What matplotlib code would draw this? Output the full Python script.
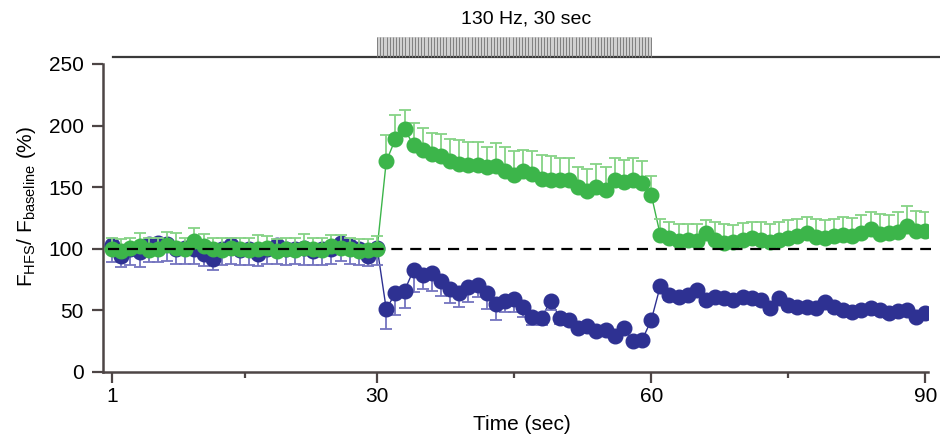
import numpy as np
import matplotlib
matplotlib.use("Agg")
import matplotlib.pyplot as plt

plt.rcParams['font.family'] = ['Liberation Sans', 'DejaVu Sans']
plt.rcParams['mathtext.fontset'] = 'custom'
plt.rcParams['mathtext.rm'] = 'Liberation Sans'
plt.rcParams['mathtext.it'] = 'Liberation Sans:italic'
plt.rcParams['mathtext.bf'] = 'Liberation Sans:bold'

# time points (sec), one sample per second
time = np.arange(1, 91)

# green trace (F_HFS / F_baseline, %) and its upper SEM
green = [
    100, 98, 101, 102, 99, 100, 103, 101, 100, 106,
    102, 100, 99, 101, 100, 99, 100, 101, 98, 100,
    99, 101, 100, 99, 102, 101, 100, 98, 99, 100,
    171, 189, 197, 184, 180, 177, 175, 171, 169, 168,
    168, 166, 167, 163, 160, 163, 161, 157, 156, 156,
    156, 150, 147, 150, 148, 156, 154, 156, 153, 144,
    111, 108.5, 106.5, 107.5, 106.5, 112.5, 107.5, 105, 105.5, 107,
    108.5, 107.5, 105.5, 107.5, 109, 110, 112.5, 109.5, 108.5, 110,
    111, 110, 112.5, 116, 112, 112.5, 114, 118.5, 114.5, 114.5,
]
green_err = [
    9, 10, 8, 11, 10, 9, 11, 12, 9, 11,
    10, 9, 10, 8, 9, 10, 11, 9, 10, 9,
    10, 11, 9, 10, 9, 10, 9, 10, 9, 10,
    21, 20, 16, 18, 18, 17, 18, 18, 19, 19,
    19, 17, 19, 20, 19, 17, 18, 19, 19, 18,
    18, 16, 18, 19, 18, 18, 18, 18, 18, 15,
    13, 13, 14, 13, 14, 11, 14, 15, 14, 14,
    13, 14, 15, 14, 14, 14, 13, 15, 15, 14,
    15, 15, 15, 14, 16, 15, 16, 16, 16, 15,
]

# blue trace and its lower SEM
blue = [
    103, 94, 100, 97, 104, 105, 104, 100, 101, 100,
    96, 92, 100, 103, 99, 100, 96, 100, 103, 100,
    100, 101, 98, 100, 100, 105, 102, 100, 94, 101,
    51, 64, 66, 83, 79, 80, 74, 67, 64, 69,
    71, 64, 55, 58, 59, 52.5, 45, 44, 58, 44,
    42, 35.5, 37, 33, 34, 29, 35.5, 25.5, 26, 42,
    70, 62.5, 61, 62.5, 66.5, 58.5, 61, 60, 58.5, 60.5,
    60, 58.5, 52, 60, 54.5, 53, 52.5, 52, 57, 53,
    50.5, 49, 50.5, 52, 50.5, 47.5, 49.5, 50.5, 45, 47.5,
]
blue_err = [
    14, 9, 13, 12, 15, 16, 14, 12, 13, 12,
    10, 9, 13, 15, 12, 13, 10, 12, 15, 13,
    12, 14, 11, 13, 12, 15, 14, 13, 8, 14,
    16, 18, 14, 18, 12, 14, 12, 11, 11, 12,
    10, 13, 13, 9, 10, 8, 7, 6, 8, 5,
    4, 3, 3, 3, 3, 3, 3, 3, 3, 3,
    4, 4, 4, 4, 4, 4, 4, 4, 4, 4,
    4, 4, 4, 4, 4, 4, 4, 4, 4, 4,
    4, 4, 4, 4, 4, 4, 4, 4, 4, 4,
]

stim_start, stim_end = 30, 60
stim_label = "130 Hz, 30 sec"
x_ticks = [1, 30, 60, 90]
x_minor = [15.5, 45, 75]
y_ticks = [0, 50, 100, 150, 200, 250]

GREEN = '#3cb54a'
GREEN_ERR = '#86d386'
BLUE = '#2e3192'
BLUE_ERR = '#7474bf'
AXIS = '#4d4545'

fig = plt.figure(figsize=(9.4, 4.38), dpi=100)
ax = fig.add_axes([0.1096, 0.1507, 0.8777, 0.7032])

zeros = np.zeros(len(time))

# blue trace
ax.plot(time, blue, '-', color=BLUE, lw=1.0, zorder=2)
ax.errorbar(time, blue, yerr=[blue_err, zeros], fmt='o', color=BLUE,
            ms=10.5, mec=BLUE, ecolor=BLUE_ERR, elinewidth=1.3,
            capsize=4.5, capthick=1.3, zorder=3)

# green trace
ax.plot(time, green, '-', color=GREEN, lw=1.0, zorder=4)
ax.errorbar(time, green, yerr=[zeros, green_err], fmt='o', color=GREEN,
            ms=10.5, mec=GREEN, ecolor=GREEN_ERR, elinewidth=1.3,
            capsize=4.5, capthick=1.3, zorder=5)

# baseline reference
ax.plot([0.5, 90.6], [100, 100], color='black', lw=1.6, dashes=(5, 3.5),
        zorder=6, clip_on=False)

# stimulation marker above the plot
ax.plot([1.1, 92], [255.7, 255.7], color='#3a3a3a', lw=1.6, clip_on=False)
ax.fill_between([stim_start, stim_end], 255.7, 272, color='#d0d0d0',
                lw=0, clip_on=False)
ax.vlines(np.linspace(stim_start, stim_end, 88), 255.7, 272,
          color='#808080', lw=0.7, clip_on=False)
ax.text(46.3, 286.5, stim_label, ha='center', va='center', fontsize=14,
        clip_on=False)

ax.set_xlim(0, 90.3)
ax.set_ylim(0, 250)
ax.set_xticks(x_ticks)
ax.set_xticks(x_minor, minor=True)
ax.set_yticks(y_ticks)

for side in ['top', 'right']:
    ax.spines[side].set_visible(False)
for side in ['left', 'bottom']:
    ax.spines[side].set_color(AXIS)
    ax.spines[side].set_linewidth(1.8)

ax.tick_params(axis='y', length=8, width=1.6, color=AXIS, labelsize=15, pad=6)
ax.tick_params(axis='x', which='major', length=8, width=1.6, color=AXIS,
               labelsize=15, pad=3)
ax.tick_params(axis='x', which='minor', length=4.5, width=1.6, color=AXIS)

fig.text(27 / 940, 1 - 206 / 438,
         r'$\mathrm{F}_{\mathrm{HFS}}$/ $\mathrm{F}_{\mathrm{baseline}}$ (%)',
         rotation=90, ha='center', va='center', fontsize=15)
fig.text(522 / 940, 1 - 424 / 438, 'Time (sec)', ha='center', va='center',
         fontsize=15)

fig.savefig('out.png', dpi=100)
